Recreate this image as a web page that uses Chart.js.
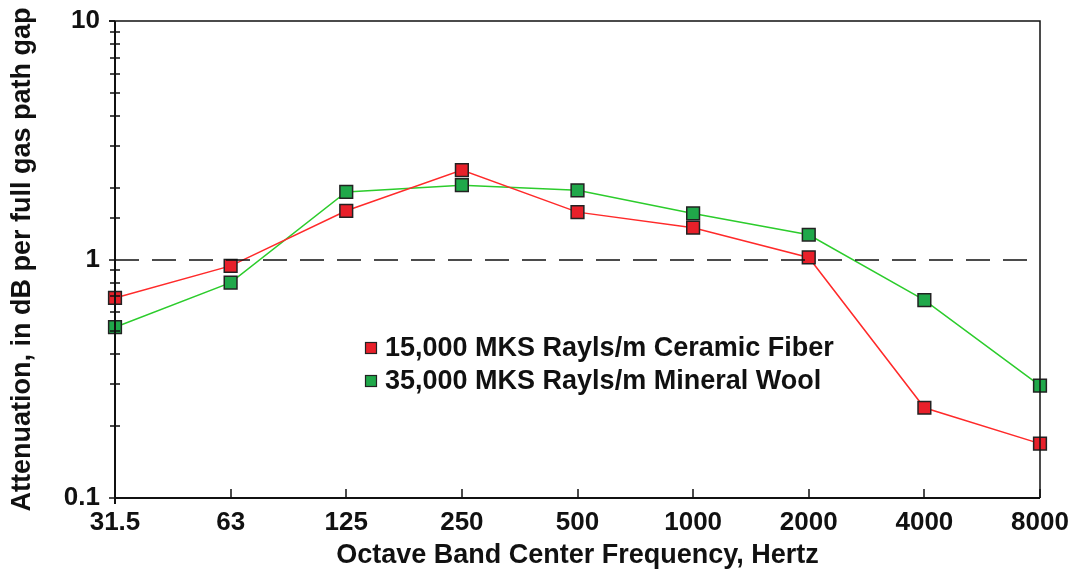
<!DOCTYPE html>
<html>
<head>
<meta charset="utf-8">
<script src="https://cdn.jsdelivr.net/npm/chart.js@4"></script>
<style>
  html, body { margin: 0; padding: 0; background: #fff; }
  #wrap { width: 1076px; height: 573px; }
</style>
</head>
<body>
<div id="wrap"><canvas id="chart"></canvas></div>
<script>
const frequencies = ['31.5', '63', '125', '250', '500', '1000', '2000', '4000', '8000'];
const ceramicFiber = [0.69, 0.94, 1.60, 2.37, 1.58, 1.36, 1.02, 0.239, 0.169];
const mineralWool = [0.52, 0.80, 1.92, 2.05, 1.95, 1.56, 1.27, 0.675, 0.296];
const yMajorTicks = [0.1, 1, 10];
const referenceLevel = 1;

const FONT = "'Liberation Sans', Arial, sans-serif";

// axes frame, tick marks and the dashed 1 dB line
const framePlugin = {
  id: 'frame',
  afterDatasetsDraw(chart) {
    const { ctx, chartArea: a, scales: { x, y } } = chart;
    ctx.save();
    ctx.strokeStyle = '#111';

    // top and right border
    ctx.lineWidth = 1.5;
    ctx.beginPath();
    ctx.moveTo(a.left - 6, a.top);
    ctx.lineTo(a.right, a.top);
    ctx.lineTo(a.right, a.bottom);
    ctx.stroke();

    // left and bottom axis lines
    ctx.lineWidth = 2;
    ctx.beginPath();
    ctx.moveTo(a.left, a.top);
    ctx.lineTo(a.left, a.bottom + 6);
    ctx.moveTo(a.left, a.bottom);
    ctx.lineTo(a.right, a.bottom);
    ctx.stroke();

    // y ticks: majors to the left, minors across the axis
    ctx.lineWidth = 1.5;
    ctx.beginPath();
    y.ticks.forEach(t => {
      const py = Math.round(y.getPixelForValue(t.value));
      const lg = Math.log10(t.value);
      const major = Math.abs(lg - Math.round(lg)) < 1e-6;
      if (major) {
        ctx.moveTo(a.left - 6, py);
        ctx.lineTo(a.left, py);
      } else {
        ctx.moveTo(a.left - 5, py);
        ctx.lineTo(a.left + 5, py);
      }
    });
    ctx.stroke();

    // x ticks pointing up into the plot
    ctx.beginPath();
    frequencies.forEach((f, i) => {
      const px = Math.round(x.getPixelForValue(i));
      ctx.moveTo(px, a.bottom);
      ctx.lineTo(px, a.bottom - 9);
    });
    ctx.stroke();

    // dashed reference line
    const ry = Math.round(y.getPixelForValue(referenceLevel));
    ctx.setLineDash([24, 13]);
    ctx.lineWidth = 1.5;
    ctx.beginPath();
    ctx.moveTo(a.left, ry);
    ctx.lineTo(a.right, ry);
    ctx.stroke();
    ctx.restore();
  }
};

// legend drawn inside the plot area
const innerLegend = {
  id: 'innerLegend',
  afterDraw(chart) {
    const { ctx } = chart;
    const x0 = 371, y0 = 348, rowGap = 33, box = 11;
    ctx.save();
    ctx.font = 'bold 27px ' + FONT;
    ctx.textBaseline = 'middle';
    chart.data.datasets.forEach((ds, i) => {
      const cy = y0 + i * rowGap;
      ctx.fillStyle = ds.pointBackgroundColor;
      ctx.fillRect(x0 - box / 2, cy - box / 2, box, box);
      ctx.strokeStyle = '#222';
      ctx.lineWidth = 1.2;
      ctx.strokeRect(x0 - box / 2, cy - box / 2, box, box);
      ctx.fillStyle = '#111';
      ctx.fillText(ds.label, x0 + 14, cy + 1);
    });
    ctx.restore();
  }
};

new Chart(document.getElementById('chart'), {
  type: 'line',
  data: {
    labels: frequencies,
    datasets: [
      {
        label: '15,000 MKS Rayls/m Ceramic Fiber',
        data: ceramicFiber,
        borderColor: '#ff2a2a',
        borderWidth: 1.5,
        pointStyle: 'rect',
        pointRadius: 9,
        pointHoverRadius: 9,
        pointBackgroundColor: '#e8202a',
        pointBorderColor: '#222',
        pointBorderWidth: 1.5,
        tension: 0
      },
      {
        label: '35,000 MKS Rayls/m Mineral Wool',
        data: mineralWool,
        borderColor: '#2ccc2c',
        borderWidth: 1.5,
        pointStyle: 'rect',
        pointRadius: 9,
        pointHoverRadius: 9,
        pointBackgroundColor: '#20a84a',
        pointBorderColor: '#222',
        pointBorderWidth: 1.5,
        tension: 0
      }
    ]
  },
  options: {
    responsive: true,
    maintainAspectRatio: false,
    animation: false,
    layout: { padding: { top: 21, right: 36, left: 0, bottom: 0 } },
    plugins: { legend: { display: false }, tooltip: { enabled: false } },
    scales: {
      x: {
        type: 'category',
        offset: false,
        grid: { display: false },
        border: { display: false },
        ticks: {
          color: '#111',
          font: { family: FONT, size: 26, weight: 'bold' },
          padding: 1,
          maxRotation: 0,
          autoSkip: false
        },
        title: {
          display: true,
          text: 'Octave Band Center Frequency, Hertz',
          color: '#111',
          font: { family: FONT, size: 27, weight: 'bold' },
          padding: { top: 0, bottom: 1 }
        },
        afterFit(s) { s.height = 75; s.paddingLeft = 0; s.paddingRight = 0; }
      },
      y: {
        type: 'logarithmic',
        min: 0.1,
        max: 10,
        grid: { display: false },
        border: { display: false },
        ticks: {
          color: '#111',
          font: { family: FONT, size: 26, weight: 'bold' },
          padding: 7,
          autoSkip: false,
          callback(v) {
            return yMajorTicks.some(m => Math.abs(m - v) < 1e-9) ? String(v) : '';
          }
        },
        title: {
          display: true,
          text: 'Attenuation, in dB per full gas path gap',
          color: '#111',
          font: { family: FONT, size: 27, weight: 'bold' },
          padding: { top: 6, bottom: 0 }
        },
        afterFit(s) { s.width = 115; s.paddingTop = 0; s.paddingBottom = 0; }
      }
    }
  },
  plugins: [framePlugin, innerLegend]
});
</script>
</body>
</html>
